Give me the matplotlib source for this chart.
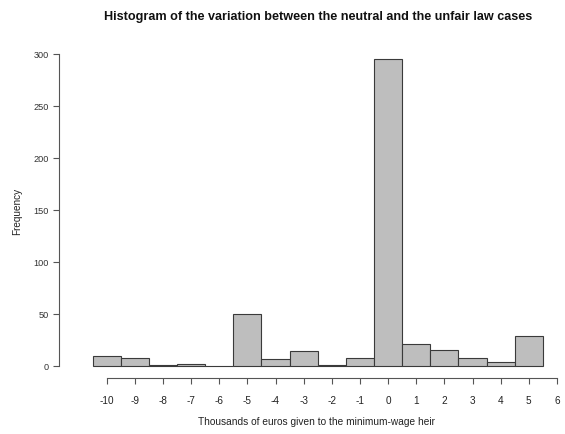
import matplotlib
matplotlib.use("Agg")
import matplotlib.pyplot as plt
import numpy as np

plt.rcParams['font.family'] = ['Liberation Sans', 'DejaVu Sans']

values = [-10, -9, -8, -7, -6, -5, -4, -3, -2, -1, 0, 1, 2, 3, 4, 5]
counts = [9, 7, 1, 2, 0, 50, 6, 14, 1, 7, 295, 21, 15, 7, 4, 29]
xticks = list(range(-10, 7))
yticks = [0, 50, 100, 150, 200, 250, 300]

W, H = 565, 435
fig = plt.figure(figsize=(W / 100, H / 100), dpi=100)

# axes geometry in pixels
px_per_x = 28.14
x0_pix = 106.7  # pixel of x=-10
left_pix = 59.3
xmin = -10 - (x0_pix - left_pix) / px_per_x
xmax = 6.2
right_pix = x0_pix + (xmax + 10) * px_per_x
top_pix, bottom_pix = 47.6, 379.0
ymin, ymax = -11.8, 306.8

ax = fig.add_axes([left_pix / W, 1 - bottom_pix / H,
                   (right_pix - left_pix) / W, (bottom_pix - top_pix) / H])

ax.bar(values, counts, width=1.0, color='#BEBEBE', edgecolor='#3a3a3a', linewidth=0.8, align='center')

ax.set_xlim(xmin, xmax)
ax.set_ylim(ymin, ymax)

for s in ['top', 'right']:
    ax.spines[s].set_visible(False)
ax.spines['left'].set_bounds(0, 300)
ax.spines['bottom'].set_bounds(-10, 6)
for s in ['left', 'bottom']:
    ax.spines[s].set_color('#555555')
    ax.spines[s].set_linewidth(0.8)

ax.set_xticks(xticks)
ax.set_xticklabels([str(t) for t in xticks])
ax.set_yticks(yticks)
ax.tick_params(axis='x', length=4, width=0.8, color='#555555', labelsize=7.2, labelcolor='#222222', pad=8)
ax.tick_params(axis='y', length=4, width=0.8, color='#555555', labelsize=6.6, labelcolor='#333333', pad=3.5)

fig.text(17 / W, 1 - 211 / H, 'Frequency', rotation=90, ha='center', va='center', fontsize=7.2, color='#222222')
fig.text(317 / W, 1 - 422 / H, 'Thousands of euros given to the minimum-wage heir', ha='center', va='center', fontsize=7.3, color='#222222')
fig.text(318 / W, 1 - 17 / H, 'Histogram of the variation between the neutral and the unfair law cases',
         ha='center', va='center', fontsize=9.1, fontweight='bold', color='#111111')

fig.savefig('out.png', dpi=100)
